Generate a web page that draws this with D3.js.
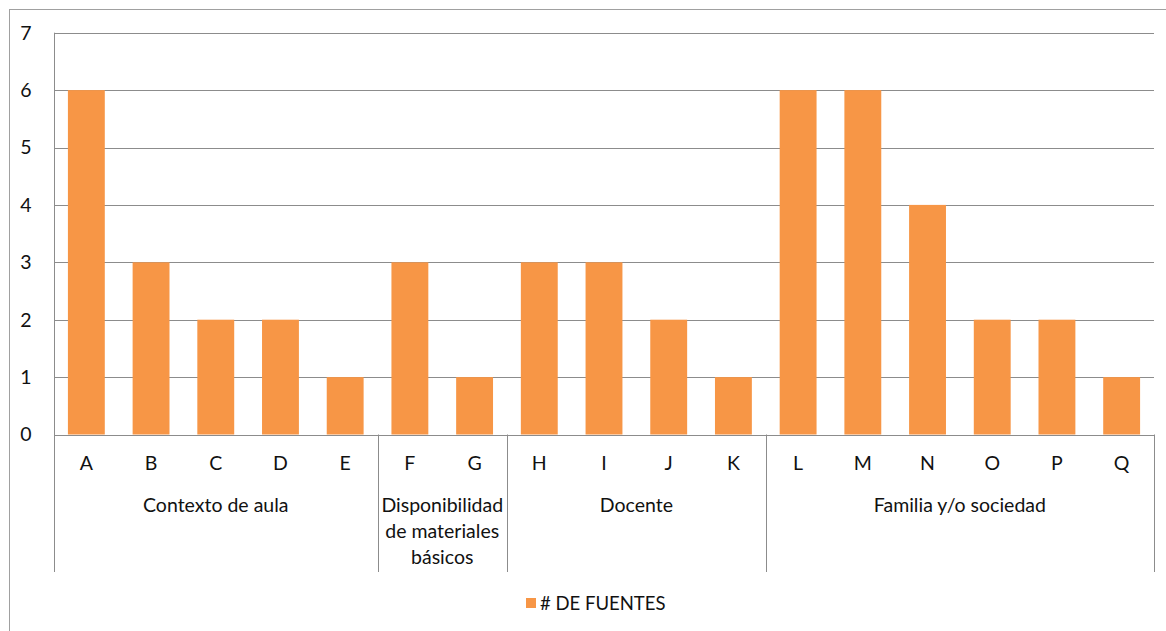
<!DOCTYPE html>
<html><head><meta charset="utf-8">
<script src="https://cdn.jsdelivr.net/npm/d3@7"></script>
<style>body{margin:0;background:#fff;}svg{display:block;font-family:Lato,"Open Sans",sans-serif;}</style>
</head><body>
<svg id="c" width="1166" height="631"></svg>
<script>
const categories = ["A","B","C","D","E","F","G","H","I","J","K","L","M","N","O","P","Q"];
const values = [6,3,2,2,1,3,1,3,3,2,1,6,6,4,2,2,1];
const groups = [
  {name:["Contexto de aula"], start:0, end:5},
  {name:["Disponibilidad","de materiales","básicos"], start:5, end:7},
  {name:["Docente"], start:7, end:11},
  {name:["Familia y/o sociedad"], start:11, end:17}
];
const yTicks = [0,1,2,3,4,5,6,7];
const seriesName = "# DE FUENTES";

const svg = d3.select("#c");
const L=54, R=1154, T=32.7, B=434.5;
const FS = 19.5;
const x = d3.scaleBand().domain(categories).range([L,R]).paddingInner(0.43).paddingOuter(0.215);
const xb = d3.scaleLinear().domain([0,categories.length]).range([L,R]);
const y = d3.scaleLinear().domain([0,7]).range([B,T]);

// outer border
svg.append("rect").attr("x",9.5).attr("y",9.5).attr("width",1170).attr("height",640)
  .attr("fill","none").attr("stroke","#a0a0a0");

// gridlines
svg.append("g").selectAll("line").data(yTicks).join("line")
  .attr("x1",L).attr("x2",R).attr("y1",d=>Math.round(y(d))+0.5).attr("y2",d=>Math.round(y(d))+0.5)
  .attr("stroke","#8c8c8c").attr("stroke-width",1);

// y labels
svg.append("g").selectAll("text").data(yTicks).join("text")
  .attr("x",26).attr("y",d=>y(d)).attr("dy","0.35em").attr("text-anchor","middle")
  .attr("font-size",FS).attr("fill","#111").text(d=>d);

// bars
svg.append("g").selectAll("rect").data(values).join("rect")
  .attr("x",(d,i)=>x(categories[i])).attr("width",x.bandwidth())
  .attr("y",d=>y(d)).attr("height",d=>y(0)-y(d)).attr("fill","#F79646");

// left axis line
svg.append("line").attr("x1",L+0.5).attr("x2",L+0.5).attr("y1",T).attr("y2",572).attr("stroke","#8c8c8c");
// group separators
const seps = [5,7,11,17];
svg.append("g").selectAll("line").data(seps).join("line")
  .attr("x1",d=>Math.round(xb(d))+0.5).attr("x2",d=>Math.round(xb(d))+0.5)
  .attr("y1",B).attr("y2",572).attr("stroke","#8c8c8c");

// category labels
svg.append("g").selectAll("text").data(categories).join("text")
  .attr("x",d=>x(d)+x.bandwidth()/2).attr("y",463).attr("dy","0.35em").attr("text-anchor","middle")
  .attr("font-size",FS).attr("fill","#111").text(d=>d);

// group labels
const gl = svg.append("g").selectAll("text").data(groups).join("text")
  .attr("x",d=>(xb(d.start)+xb(d.end))/2).attr("y",505).attr("text-anchor","middle")
  .attr("font-size",FS).attr("fill","#111");
gl.selectAll("tspan").data(d=>d.name.map(n=>({n,x:(xb(d.start)+xb(d.end))/2}))).join("tspan")
  .attr("x",d=>d.x).attr("dy",(d,i)=>i===0?"0.35em":"26").text(d=>d.n);

// legend
svg.append("rect").attr("x",526).attr("y",598).attr("width",10).attr("height",10).attr("fill","#F79646");
svg.append("text").attr("x",540).attr("y",603.5).attr("dy","0.35em").attr("font-size",18.5).attr("fill","#111").text(seriesName);
</script>
</body></html>
